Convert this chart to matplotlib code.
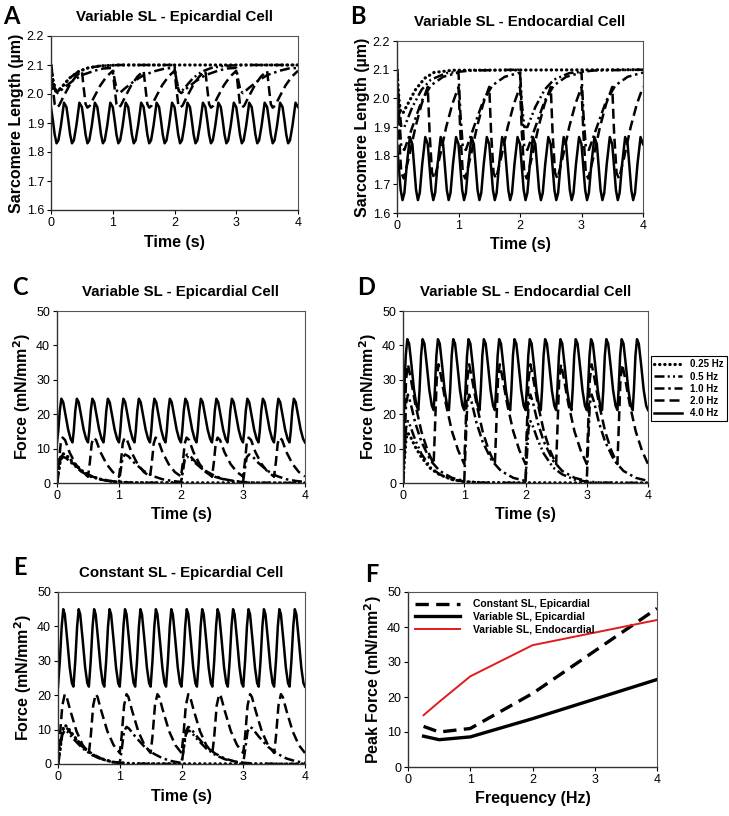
import numpy as np
import matplotlib
matplotlib.use("Agg")
import matplotlib.pyplot as plt
from matplotlib.lines import Line2D

plt.rcParams['font.family'] = ['Liberation Sans', 'DejaVu Sans']

# ---------------- data ----------------
freq_labels = ["0.25 Hz", "0.5 Hz", "1.0 Hz", "2.0 Hz", "4.0 Hz"]
freqs = [0.25, 0.5, 1.0, 2.0, 4.0]

# Beat templates: time offsets after each stimulus (s) and values
# Panel A - Variable SL, epicardial, sarcomere length (um)
A_t = {
    0.25: [0, 0.03, 0.07, 0.11, 0.2, 0.3, 0.45, 0.6, 0.8, 1.1, 4.0],
    0.5:  [0, 0.03, 0.07, 0.11, 0.2, 0.3, 0.45, 0.6, 0.8, 1.1, 2.0],
    1.0:  [0, 0.03, 0.07, 0.11, 0.2, 0.35, 0.5, 0.7, 0.85, 1.0],
    2.0:  [0, 0.03, 0.06, 0.09, 0.13, 0.2, 0.3, 0.4, 0.5],
    4.0:  [0, 0.03, 0.06, 0.09, 0.12, 0.16, 0.21, 0.25],
}
A_v = {
    0.25: [2.1, 2.05, 2.015, 2.01, 2.03, 2.055, 2.078, 2.09, 2.097, 2.1, 2.1],
    0.5:  [2.1, 2.05, 2.012, 2.008, 2.03, 2.055, 2.078, 2.09, 2.097, 2.1, 2.1],
    1.0:  [2.09, 2.05, 2.01, 2.003, 2.02, 2.045, 2.065, 2.08, 2.088, 2.09],
    2.0:  [2.08, 2.02, 1.965, 1.953, 1.96, 1.99, 2.03, 2.06, 2.08],
    4.0:  [1.955, 1.91, 1.86, 1.83, 1.84, 1.89, 1.97, 1.955],
}
# Panel B - Variable SL, endocardial, sarcomere length (um)
B_t = {
    0.25: [0, 0.03, 0.06, 0.1, 0.2, 0.3, 0.45, 0.6, 0.9, 4.0],
    0.5:  [0, 0.03, 0.07, 0.12, 0.25, 0.4, 0.55, 0.8, 1.2, 2.0],
    1.0:  [0, 0.03, 0.07, 0.12, 0.25, 0.4, 0.55, 0.75, 1.0],
    2.0:  [0, 0.03, 0.07, 0.11, 0.2, 0.3, 0.4, 0.5],
    4.0:  [0, 0.03, 0.06, 0.09, 0.12, 0.16, 0.21, 0.25],
}
B_v = {
    0.25: [2.1, 2.0, 1.95, 1.95, 1.99, 2.03, 2.07, 2.09, 2.098, 2.1],
    0.5:  [2.095, 1.98, 1.9, 1.9, 1.97, 2.03, 2.065, 2.088, 2.097, 2.1],
    1.0:  [2.09, 1.95, 1.83, 1.82, 1.9, 1.99, 2.045, 2.075, 2.09],
    2.0:  [2.04, 1.88, 1.74, 1.72, 1.8, 1.9, 1.98, 2.04],
    4.0:  [1.84, 1.76, 1.68, 1.645, 1.67, 1.77, 1.865, 1.84],
}
# Panel C - Variable SL, epicardial, force (mN/mm2)
C_t = {
    0.25: [0, 0.03, 0.06, 0.1, 0.15, 0.25, 0.4, 0.55, 0.7, 0.9, 1.2, 4.0],
    0.5:  [0, 0.03, 0.06, 0.1, 0.15, 0.25, 0.4, 0.55, 0.7, 0.9, 1.2, 2.0],
    1.0:  [0, 0.03, 0.06, 0.1, 0.15, 0.25, 0.4, 0.55, 0.7, 0.85, 1.0],
    2.0:  [0, 0.03, 0.06, 0.09, 0.13, 0.2, 0.3, 0.4, 0.5],
    4.0:  [0, 0.02, 0.045, 0.07, 0.1, 0.14, 0.18, 0.22, 0.25],
}
C_v = {
    0.25: [0, 4, 7.8, 8.5, 8.1, 6.2, 3.6, 2, 1.1, 0.4, 0.1, 0],
    0.5:  [0, 3.5, 6.8, 7.6, 7.2, 5.5, 3.2, 1.8, 1, 0.4, 0.1, 0],
    1.0:  [0.3, 4, 7.5, 8.3, 7.8, 5.8, 3.5, 2, 1.1, 0.6, 0.3],
    2.0:  [1.8, 6, 11.5, 13.2, 12.5, 9, 5.5, 3.2, 1.9],
    4.0:  [11.8, 15, 21, 24.5, 23.5, 19.5, 15.5, 12.8, 11.8],
}
# Panel D - Variable SL, endocardial, force (mN/mm2)
D_t = {
    0.25: [0, 0.02, 0.05, 0.08, 0.12, 0.2, 0.3, 0.45, 0.6, 0.8, 1.0, 1.3, 4.0],
    0.5:  [0, 0.02, 0.05, 0.08, 0.12, 0.2, 0.3, 0.45, 0.6, 0.8, 1.0, 1.3, 2.0],
    1.0:  [0, 0.02, 0.05, 0.08, 0.12, 0.2, 0.3, 0.45, 0.6, 0.8, 1.0],
    2.0:  [0, 0.02, 0.05, 0.08, 0.12, 0.2, 0.3, 0.4, 0.5],
    4.0:  [0, 0.02, 0.045, 0.07, 0.1, 0.14, 0.18, 0.22, 0.25],
}
D_v = {
    0.25: [0, 6, 13, 14.5, 13.5, 10.5, 7.5, 4.2, 2.4, 1, 0.4, 0.1, 0],
    0.5:  [0, 7, 16, 18, 16.5, 12.5, 8.5, 4.5, 2.5, 1, 0.4, 0.1, 0],
    1.0:  [0.5, 10, 23, 25.7, 23.5, 17.5, 12, 6.5, 3.5, 1.5, 0.6],
    2.0:  [5.5, 15, 30, 34.5, 31, 23, 15, 9.5, 5.5],
    4.0:  [21.2, 27, 37, 41.8, 40.5, 34, 27, 22.5, 21.2],
}
# Panel E - Constant SL, epicardial, force (mN/mm2)
E_t = {
    0.25: [0, 0.03, 0.07, 0.11, 0.15, 0.25, 0.4, 0.55, 0.7, 0.9, 1.2, 4.0],
    0.5:  [0, 0.03, 0.07, 0.11, 0.15, 0.25, 0.4, 0.55, 0.7, 0.9, 1.2, 2.0],
    1.0:  [0, 0.03, 0.07, 0.11, 0.15, 0.25, 0.4, 0.55, 0.7, 0.85, 1.0],
    2.0:  [0, 0.03, 0.07, 0.11, 0.14, 0.2, 0.3, 0.4, 0.5],
    4.0:  [0, 0.03, 0.06, 0.085, 0.11, 0.15, 0.19, 0.225, 0.25],
}
E_v = {
    0.25: [0, 4, 9.8, 11.3, 10.8, 8.3, 5, 2.8, 1.5, 0.5, 0.1, 0],
    0.5:  [0, 3.5, 8.5, 9.8, 9.4, 7.3, 4.5, 2.6, 1.4, 0.5, 0.1, 0],
    1.0:  [0.3, 4, 9.5, 10.8, 10.3, 8, 5, 3, 1.6, 0.8, 0.3],
    2.0:  [3.2, 8, 17, 20.3, 19.5, 15.5, 9.5, 5.5, 3.2],
    4.0:  [22.5, 30, 40, 45, 43.5, 36, 28, 23.5, 22.5],
}
# value at t = 0 (resting state) where it differs from the beat template
first_SL = {0.25: 2.1, 0.5: 2.1, 1.0: 2.1, 2.0: 2.1}
first_F = {0.25: 0.0, 0.5: 0.0, 1.0: 0.0, 2.0: 0.0}
first_D = {0.25: 0.0, 0.5: 0.0, 1.0: 0.0, 2.0: 0.0, 4.0: 0.0}

# Panel F - peak force vs frequency
F_freq = [0.25, 0.5, 1.0, 2.0, 4.0]
F_const_epi = [11.6, 10.0, 11.0, 21.0, 45.3]
F_var_epi = [8.8, 7.8, 8.6, 13.8, 25.0]
F_var_endo = [14.8, 18.6, 25.9, 34.8, 42.0]

# ---------------- styles ----------------
styles = {
    0.25: dict(linestyle=(0, (0.1, 1.5)), lw=2.3, dash_capstyle='round'),
    0.5:  dict(linestyle=(0, (4, 1.3, 0.8, 1.3, 0.8, 1.3)), lw=1.8),
    1.0:  dict(linestyle=(0, (4, 1.5, 1, 1.5)), lw=1.8),
    2.0:  dict(linestyle=(0, (4, 2)), lw=1.8),
    4.0:  dict(linestyle='-', lw=1.8),
}


def build(offsets, values, f, first=None):
    period = 1.0 / f
    n = int(round(4 * f))
    ts, vs = [], []
    for k in range(n):
        vals = list(values)
        if k == 0 and first is not None:
            vals[0] = first
        ts += [k * period + o for o in offsets]
        vs += vals
    return np.array(ts), np.array(vs)


W, H = 729, 816
fig = plt.figure(figsize=(W / 100, H / 100), dpi=100)


def axes_px(l, t, r, b):
    return fig.add_axes([l / W, 1 - b / H, (r - l) / W, (b - t) / H])


def style_axes(ax):
    for s in ['top', 'right']:
        ax.spines[s].set_color('#555555')
        ax.spines[s].set_linewidth(0.8)
    for s in ['left', 'bottom']:
        ax.spines[s].set_color('#333333')
        ax.spines[s].set_linewidth(1.0)
    ax.tick_params(direction='out', length=3, width=0.8, labelsize=9,
                   top=False, right=False, pad=2)


def time_panel(ax, T, V, first, ylim, yticks, fmt, ylabel, title):
    for f in [4.0, 2.0, 1.0, 0.5, 0.25]:
        t, v = build(T[f], V[f], f, first.get(f))
        ax.plot(t, v, color='black', **styles[f])
    ax.set_xlim(0, 4)
    ax.set_ylim(*ylim)
    ax.set_xticks([0, 1, 2, 3, 4])
    ax.set_yticks(yticks)
    ax.set_yticklabels([fmt.format(y) for y in yticks])
    ax.set_xlabel('Time (s)', fontsize=11.5, fontweight='bold', labelpad=4)
    ax.set_ylabel(ylabel, fontsize=11.5, fontweight='bold', labelpad=2)
    ax.set_title(title, fontsize=10.8, fontweight='bold', pad=11)
    style_axes(ax)


SL_ticks = [1.6, 1.7, 1.8, 1.9, 2.0, 2.1, 2.2]
F_ticks = [0, 10, 20, 30, 40, 50]
force_label = r'Force (mN/mm$^\mathbf{2}$)'

axA = axes_px(51, 36, 298, 210)
time_panel(axA, A_t, A_v, first_SL, (1.6, 2.2), SL_ticks, '{:.1f}',
           'Sarcomere Length (\u00b5m)', 'Variable SL - Epicardial Cell')
axB = axes_px(397, 41, 643, 213)
time_panel(axB, B_t, B_v, first_SL, (1.6, 2.2), SL_ticks, '{:.1f}',
           'Sarcomere Length (\u00b5m)', 'Variable SL - Endocardial Cell')
axC = axes_px(57, 311, 305, 483)
time_panel(axC, C_t, C_v, first_F, (0, 50), F_ticks, '{:d}',
           force_label, 'Variable SL - Epicardial Cell')
axD = axes_px(403, 311, 648, 483)
time_panel(axD, D_t, D_v, first_D, (0, 50), F_ticks, '{:d}',
           force_label, 'Variable SL - Endocardial Cell')
axE = axes_px(58, 592, 305, 764)
time_panel(axE, E_t, E_v, first_F, (0, 50), F_ticks, '{:d}',
           force_label, 'Constant SL - Epicardial Cell')

# Legend for frequencies (right of D)
handles = [Line2D([], [], color='black', **styles[f]) for f in freqs]
leg = fig.legend(handles, freq_labels, loc='upper left',
                 bbox_to_anchor=(651 / W, 1 - 356 / H), frameon=True,
                 fancybox=False, edgecolor='black', framealpha=1,
                 prop=dict(weight='bold', size=7), handlelength=2.8,
                 borderpad=0.35, labelspacing=0.22, handletextpad=0.9,
                 borderaxespad=0)
leg.get_frame().set_linewidth(0.8)

# Panel F
axF = axes_px(408, 592, 657, 767)
axF.plot(F_freq, F_const_epi, color='black', lw=2.4, linestyle=(0, (4, 2.2)),
         label='Constant SL, Epicardial')
axF.plot(F_freq, F_var_epi, color='black', lw=2.4, label='Variable SL, Epicardial')
axF.plot(F_freq, F_var_endo, color='#e31a1c', lw=1.4, label='Variable SL, Endocardial')
axF.set_xlim(0, 4)
axF.set_ylim(0, 50)
axF.set_xticks([0, 1, 2, 3, 4])
axF.set_yticks(F_ticks)
axF.set_xlabel('Frequency (Hz)', fontsize=11.5, fontweight='bold', labelpad=4)
axF.set_ylabel(r'Peak Force (mN/mm$^\mathbf{2}$)', fontsize=11.5, fontweight='bold', labelpad=2)
style_axes(axF)
axF.legend(loc='upper left', frameon=False, prop=dict(weight='bold', size=7.5),
           handlelength=4.3, labelspacing=0.25, handletextpad=1.2,
           borderaxespad=0.3)

# Panel letters
for lab, x, y in [('A', 3, 5), ('B', 350, 5), ('C', 12, 276), ('D', 357, 276),
                  ('E', 13, 556), ('F', 365, 563)]:
    fig.text(x / W, 1 - y / H, lab, fontsize=17, fontweight='bold',
             family=['Lato', 'DejaVu Sans'], va='top', ha='left')

fig.savefig('out.png', dpi=100)
